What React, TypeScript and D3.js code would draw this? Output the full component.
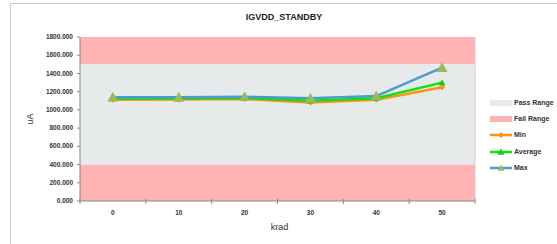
import { scaleBand, scaleLinear, line as d3Line } from "d3";

const categories = ["0", "10", "20", "30", "40", "50"];
const minValues = [1110, 1115, 1120, 1080, 1110, 1248];
const avgValues = [1125, 1125, 1130, 1100, 1127, 1299];
const maxValues = [1140, 1138, 1145, 1127, 1152, 1463];
const yTicks = [0, 200, 400, 600, 800, 1000, 1200, 1400, 1600, 1800];
const passRange = [400, 1500];
const yMax = 1800;

const series = [
  { name: "Min", values: minValues, color: "#FF9010", marker: "diamond", markerColor: "#FF9010", size: 3 },
  { name: "Average", values: avgValues, color: "#10E010", marker: "triangle", markerColor: "#10D010", size: 3.5 },
  { name: "Max", values: maxValues, color: "#4A9BD0", marker: "triangle", markerColor: "#9BBB59", size: 5.5 },
];

const FONT = "'Liberation Sans', Arial, sans-serif";

const Marker = ({ x, y, kind, color, size }: { x: number; y: number; kind: string; color: string; size: number }) => {
  if (kind === "diamond") {
    return <path d={`M${x},${y - size}L${x + size},${y}L${x},${y + size}L${x - size},${y}Z`} fill={color} />;
  }
  return <path d={`M${x},${y - size}L${x + size},${y + size * 0.8}L${x - size},${y + size * 0.8}Z`} fill={color} />;
};

export default function App() {
  const margin = { left: 80, top: 37, right: 475, bottom: 201 };

  const x = scaleBand<string>().domain(categories).range([margin.left, margin.right]);
  const y = scaleLinear().domain([0, yMax]).range([margin.bottom, margin.top]);
  const cx = (c: string) => (x(c) ?? 0) + x.bandwidth() / 2;

  const lineGen = d3Line<number>()
    .x((_, i) => cx(categories[i]))
    .y((d) => y(d));

  const bounds = [margin.left, ...categories.map((c) => (x(c) ?? 0) + x.bandwidth())];

  const legendX = 490;
  const legendItems = [
    { name: "Pass Range", y: 103 },
    { name: "Fail Range", y: 119 },
    { name: "Min", y: 135 },
    { name: "Average", y: 152 },
    { name: "Max", y: 168 },
  ];

  return (
    <svg
      width={557}
      height={244}
      style={{ position: "absolute", left: 0, top: 0, background: "#fff" }}
      fontFamily={FONT}
    >
      <rect x={10.5} y={3.5} width={560} height={260} fill="#fff" stroke="#c8c8c8" />

      <text x={284} y={20} textAnchor="middle" fontSize={9} fontWeight="bold" fill="#222">
        IGVDD_STANDBY
      </text>

      {/* ranges */}
      <rect x={margin.left} y={y(yMax)} width={margin.right - margin.left} height={y(passRange[1]) - y(yMax)} fill="#FFB3B3" />
      <rect x={margin.left} y={y(passRange[1])} width={margin.right - margin.left} height={y(passRange[0]) - y(passRange[1])} fill="#E6EAEA" />
      <rect x={margin.left} y={y(passRange[0])} width={margin.right - margin.left} height={y(0) - y(passRange[0])} fill="#FFB3B3" />
      <line x1={margin.right} x2={margin.right} y1={margin.top} y2={margin.bottom} stroke="#d0d0d0" />

      {/* y axis */}
      <line x1={margin.left} x2={margin.left} y1={margin.top} y2={margin.bottom} stroke="#888" />
      {yTicks.map((t) => (
        <g key={`y-${t}`}>
          <line x1={margin.left - 3} x2={margin.left} y1={y(t)} y2={y(t)} stroke="#888" />
          <text x={margin.left - 7} y={y(t)} dy="0.33em" textAnchor="end" fontSize={6.5} fontWeight="bold" fill="#333">
            {t.toFixed(3)}
          </text>
        </g>
      ))}

      {/* x axis */}
      <line x1={margin.left} x2={margin.right} y1={margin.bottom} y2={margin.bottom} stroke="#888" />
      {bounds.map((b, i) => (
        <line key={`xt-${i}`} x1={b} x2={b} y1={margin.bottom - 2} y2={margin.bottom + 3} stroke="#888" />
      ))}
      {categories.map((c) => (
        <text key={`xl-${c}`} x={cx(c)} y={215} textAnchor="middle" fontSize={6.5} fontWeight="bold" fill="#333">
          {c}
        </text>
      ))}

      <text x={(margin.left + margin.right) / 2 + 2} y={230} textAnchor="middle" fontSize={9} fill="#333">
        krad
      </text>
      <text transform={`translate(33,${(margin.top + margin.bottom) / 2}) rotate(-90)`} textAnchor="middle" fontSize={9} fill="#333">
        uA
      </text>

      {/* series */}
      {series.map((s) => (
        <g key={s.name}>
          <path d={lineGen(s.values) ?? ""} fill="none" stroke={s.color} strokeWidth={2.5} strokeLinejoin="round" />
          {s.values.map((v, i) => (
            <Marker key={i} x={cx(categories[i])} y={y(v)} kind={s.marker} color={s.markerColor} size={s.size} />
          ))}
        </g>
      ))}

      {/* legend */}
      {legendItems.map((it, i) => (
        <g key={it.name}>
          {i < 2 ? (
            <rect x={legendX} y={it.y - 3} width={22} height={6} fill={i === 0 ? "#E6EAEA" : "#FFB3B3"} />
          ) : (
            <>
              <line x1={legendX} x2={legendX + 22} y1={it.y} y2={it.y} stroke={series[i - 2].color} strokeWidth={2.5} />
              <Marker x={legendX + 11} y={it.y} kind={series[i - 2].marker} color={series[i - 2].markerColor} size={Math.min(series[i - 2].size, 3.5)} />
            </>
          )}
          <text x={legendX + 24} y={it.y} dy="0.33em" fontSize={7} fontWeight="bold" fill="#333">
            {it.name}
          </text>
        </g>
      ))}
    </svg>
  );
}
